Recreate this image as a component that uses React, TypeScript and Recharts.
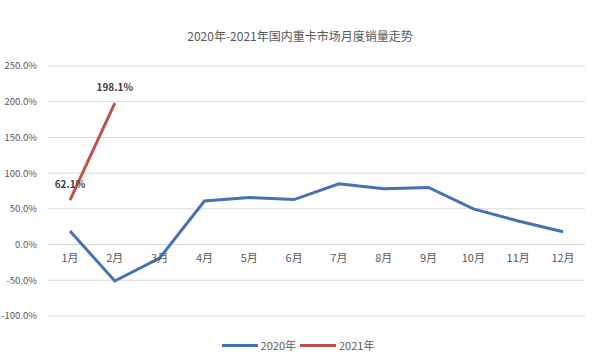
import React from "react";
import { LineChart, Line, XAxis, YAxis, CartesianGrid, LabelList } from "recharts";

const months = ["1月", "2月", "3月", "4月", "5月", "6月", "7月", "8月", "9月", "10月", "11月", "12月"];
const sales2020 = [19, -51, -19, 61, 66, 63, 85, 78, 80, 50, 33, 18];
const sales2021 = [62.1, 198.1];
const yTicks = [-100, -50, 0, 50, 100, 150, 200, 250];

const data = months.map((m, i) => ({
  month: m,
  y2020: sales2020[i],
  y2021: i < sales2021.length ? sales2021[i] : null,
}));

const FONT = "'Noto Sans CJK SC', 'Noto Sans', sans-serif";
const BLUE = "#4472b4";
const RED = "#c0504d";

// category labels sit just under the 0% line, like Excel
function MonthTick(props: any) {
  const { x, payload } = props;
  return (
    <text x={x} y={262} textAnchor="middle" fill="#595959" fontSize={11} fontFamily={FONT}>
      {payload.value}
    </text>
  );
}

function Legend2() {
  const item = (color: string, label: string) => (
    <div style={{ display: "flex", alignItems: "center", marginRight: 4 }}>
      <div style={{ width: 36, height: 3, background: color, marginRight: 3 }} />
      <span style={{ fontSize: 11, color: "#595959" }}>{label}</span>
    </div>
  );
  return (
    <div style={{ position: "absolute", top: 337, left: 0, width: 600, display: "flex", justifyContent: "center", fontFamily: FONT }}>
      {item(BLUE, "2020年")}
      {item(RED, "2021年")}
    </div>
  );
}

export default function App() {
  return (
    <div style={{ position: "absolute", left: 0, top: 0, width: 600, height: 360, background: "#fff", fontFamily: FONT }}>
      <div style={{ position: "absolute", top: 27, width: 600, textAlign: "center", fontSize: 12, color: "#595959" }}>
        2020年-2021年国内重卡市场月度销量走势
      </div>
      <LineChart width={600} height={360} data={data} margin={{ top: 66, right: 15, bottom: 40, left: 0 }}>
        <CartesianGrid vertical={false} stroke="#d9d9d9" />
        <XAxis
          dataKey="month"
          axisLine={false}
          tickLine={false}
          tick={<MonthTick />}
          height={4}
          interval={0}
          padding={{ left: 22, right: 22 }}
        />
        <YAxis
          domain={[-100, 250]}
          ticks={yTicks}
          width={48}
          axisLine={false}
          tickLine={false}
          tickFormatter={(v: number) => `${v.toFixed(1)}%`}
          tick={{ fill: "#595959", fontSize: 9.5, fontFamily: FONT }}
          tickMargin={5}
        />
        <Line dataKey="y2020" stroke={BLUE} strokeWidth={3} dot={false} isAnimationActive={false} />
        <Line dataKey="y2021" stroke={RED} strokeWidth={3} dot={false} isAnimationActive={false}>
          <LabelList
            dataKey="y2021"
            position="top"
            offset={12}
            fill="#404040"
            fontSize={10}
            fontWeight="bold"
            formatter={(v: any) => (v == null ? "" : `${Number(v).toFixed(1)}%`)}
          />
        </Line>
      </LineChart>
      <Legend2 />
    </div>
  );
}
